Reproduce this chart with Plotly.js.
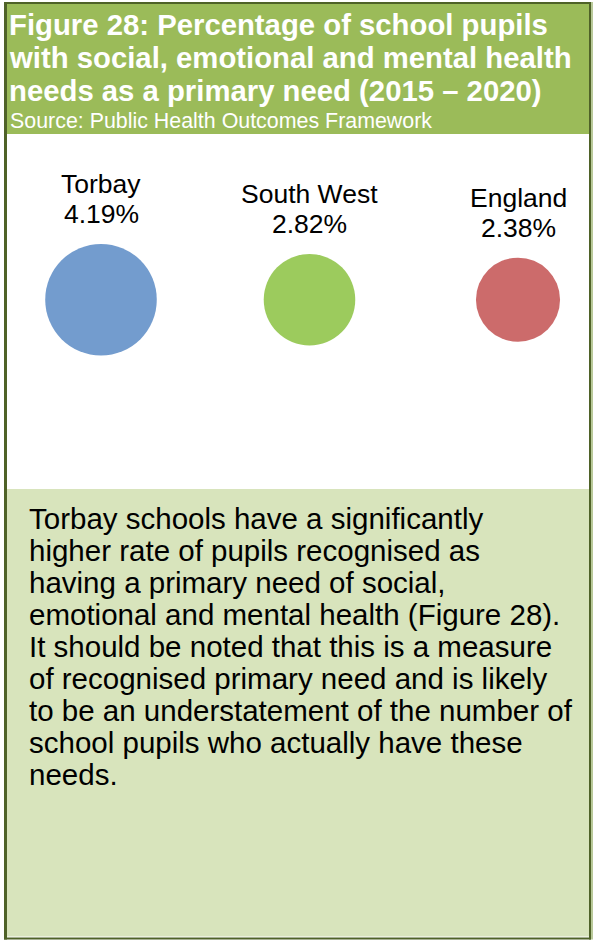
<!DOCTYPE html>
<html>
<head>
<meta charset="utf-8">
<script src="https://cdn.plot.ly/plotly-3.0.1.min.js"></script>
<style>
  html, body { margin: 0; padding: 0; background: #ffffff; }
  #chart { width: 593px; height: 941px; }
</style>
</head>
<body>
<div id="chart"></div>
<script>
// ---- data ----
const categories = ['Torbay', 'South West', 'England'];
const values = [4.19, 2.82, 2.38];           // % of pupils
const valueLabels = ['4.19%', '2.82%', '2.38%'];
const titleLines = [
  'Figure 28: Percentage of school pupils',
  'with social, emotional and mental health',
  'needs as a primary need (2015 \u2013 2020)'
];
const sourceText = 'Source: Public Health Outcomes Framework';
const bodyLines = [
  'Torbay schools have a significantly',
  'higher rate of pupils recognised as',
  'having a primary need of social,',
  'emotional and mental health (Figure 28).',
  'It should be noted that this is a measure',
  'of recognised primary need and is likely',
  'to be an understatement of the number of',
  'school pupils who actually have these',
  'needs.'
];

// ---- styles ----
const bubbleColors = ['#739cce', '#9ccb5d', '#cc6b6b'];
const FONT = 'Liberation Sans, Arial, Helvetica, sans-serif';
const W = 593, H = 941;
const px = v => v / W;              // pixel -> paper x
const py = v => 1 - v / H;          // pixel -> paper y

// bubble diameter proportional to sqrt(value) (area-proportional)
const K = 54.5;
const diam = values.map(v => K * Math.sqrt(v));
const xs = categories.map((c, i) => i);
const ys = categories.map(() => 0);

const trace = {
  type: 'scatter',
  mode: 'markers',
  x: xs,
  y: ys,
  text: categories.map((c, i) => c + ': ' + valueLabels[i]),
  hoverinfo: 'text',
  marker: {
    size: diam,
    sizemode: 'diameter',
    sizeref: 1,
    color: bubbleColors,
    opacity: 1,
    line: { width: 0 }
  },
  showlegend: false,
  cliponaxis: false
};

const annotations = [];
// category + value labels above each bubble
categories.forEach((c, i) => {
  annotations.push({
    x: xs[i], y: ys[i], xref: 'x', yref: 'y',
    text: valueLabels[i], showarrow: false,
    xanchor: 'center', yanchor: 'middle',
    yshift: diam[i] / 2 + 29.5,
    font: { family: FONT, size: 26.5, color: '#000000' }
  });
  annotations.push({
    x: xs[i], y: ys[i], xref: 'x', yref: 'y',
    text: c, showarrow: false,
    xanchor: 'center', yanchor: 'middle',
    yshift: diam[i] / 2 + 59.5,
    font: { family: FONT, size: 26.5, color: '#000000' }
  });
});
// title lines
titleLines.forEach((t, i) => {
  annotations.push({
    xref: 'paper', yref: 'paper',
    x: px(7), y: py(24 + i * 33.4),
    xanchor: 'left', yanchor: 'middle',
    text: '<b>' + t + '</b>', showarrow: false,
    font: { family: FONT, size: 29.3, color: '#ffffff' }
  });
});
// source
annotations.push({
  xref: 'paper', yref: 'paper',
  x: px(7.5), y: py(120.8),
  xanchor: 'left', yanchor: 'middle',
  text: sourceText, showarrow: false,
  font: { family: FONT, size: 21.4, color: '#ffffff' }
});
// body text
bodyLines.forEach((t, i) => {
  annotations.push({
    xref: 'paper', yref: 'paper',
    x: px(26.5), y: py(518.5 + i * 32.0),
    xanchor: 'left', yanchor: 'middle',
    text: t, showarrow: false,
    font: { family: FONT, size: 29.5, color: '#000000' }
  });
});

const rect = (x0, y0, x1, y1, color) => ({
  type: 'rect', xref: 'paper', yref: 'paper',
  x0: px(x0), x1: px(x1), y0: py(y1), y1: py(y0),
  fillcolor: color, line: { width: 0 }, layer: 'below'
});

const shapes = [
  rect(7, 4, 589, 134, '#9bbb59'),      // title band
  rect(7, 489, 589, 936.5, '#d8e4bc'),  // text box
  rect(4, 2, 7, 939.5, '#4f6228'),      // left border
  rect(4, 2, 591, 4, '#4f6228'),        // top border
  rect(589, 2, 591, 939.5, '#4f6228'),  // right border
  rect(4, 937.5, 591, 939.5, '#4f6228'),// bottom border
  rect(591, 2, 593, 939.5, '#b9c99a')   // faint outer edge
];

// axis ranges: 1 y-unit = 1 px, bubble centres near y=300 px
const spacing = 208.5, firstX = 101;
const layout = {
  width: W, height: H,
  margin: { l: 0, r: 0, t: 0, b: 0, pad: 0 },
  paper_bgcolor: '#ffffff',
  plot_bgcolor: 'rgba(0,0,0,0)',
  showlegend: false,
  xaxis: {
    range: [-firstX / spacing, (W - firstX) / spacing],
    visible: false, showgrid: false, zeroline: false, fixedrange: true
  },
  yaxis: {
    range: [-(H - 299.7), 299.7],
    visible: false, showgrid: false, zeroline: false, fixedrange: true
  },
  shapes: shapes,
  annotations: annotations,
  font: { family: FONT }
};

Plotly.newPlot('chart', [trace], layout, { displayModeBar: false, staticPlot: true });
</script>
</body>
</html>
